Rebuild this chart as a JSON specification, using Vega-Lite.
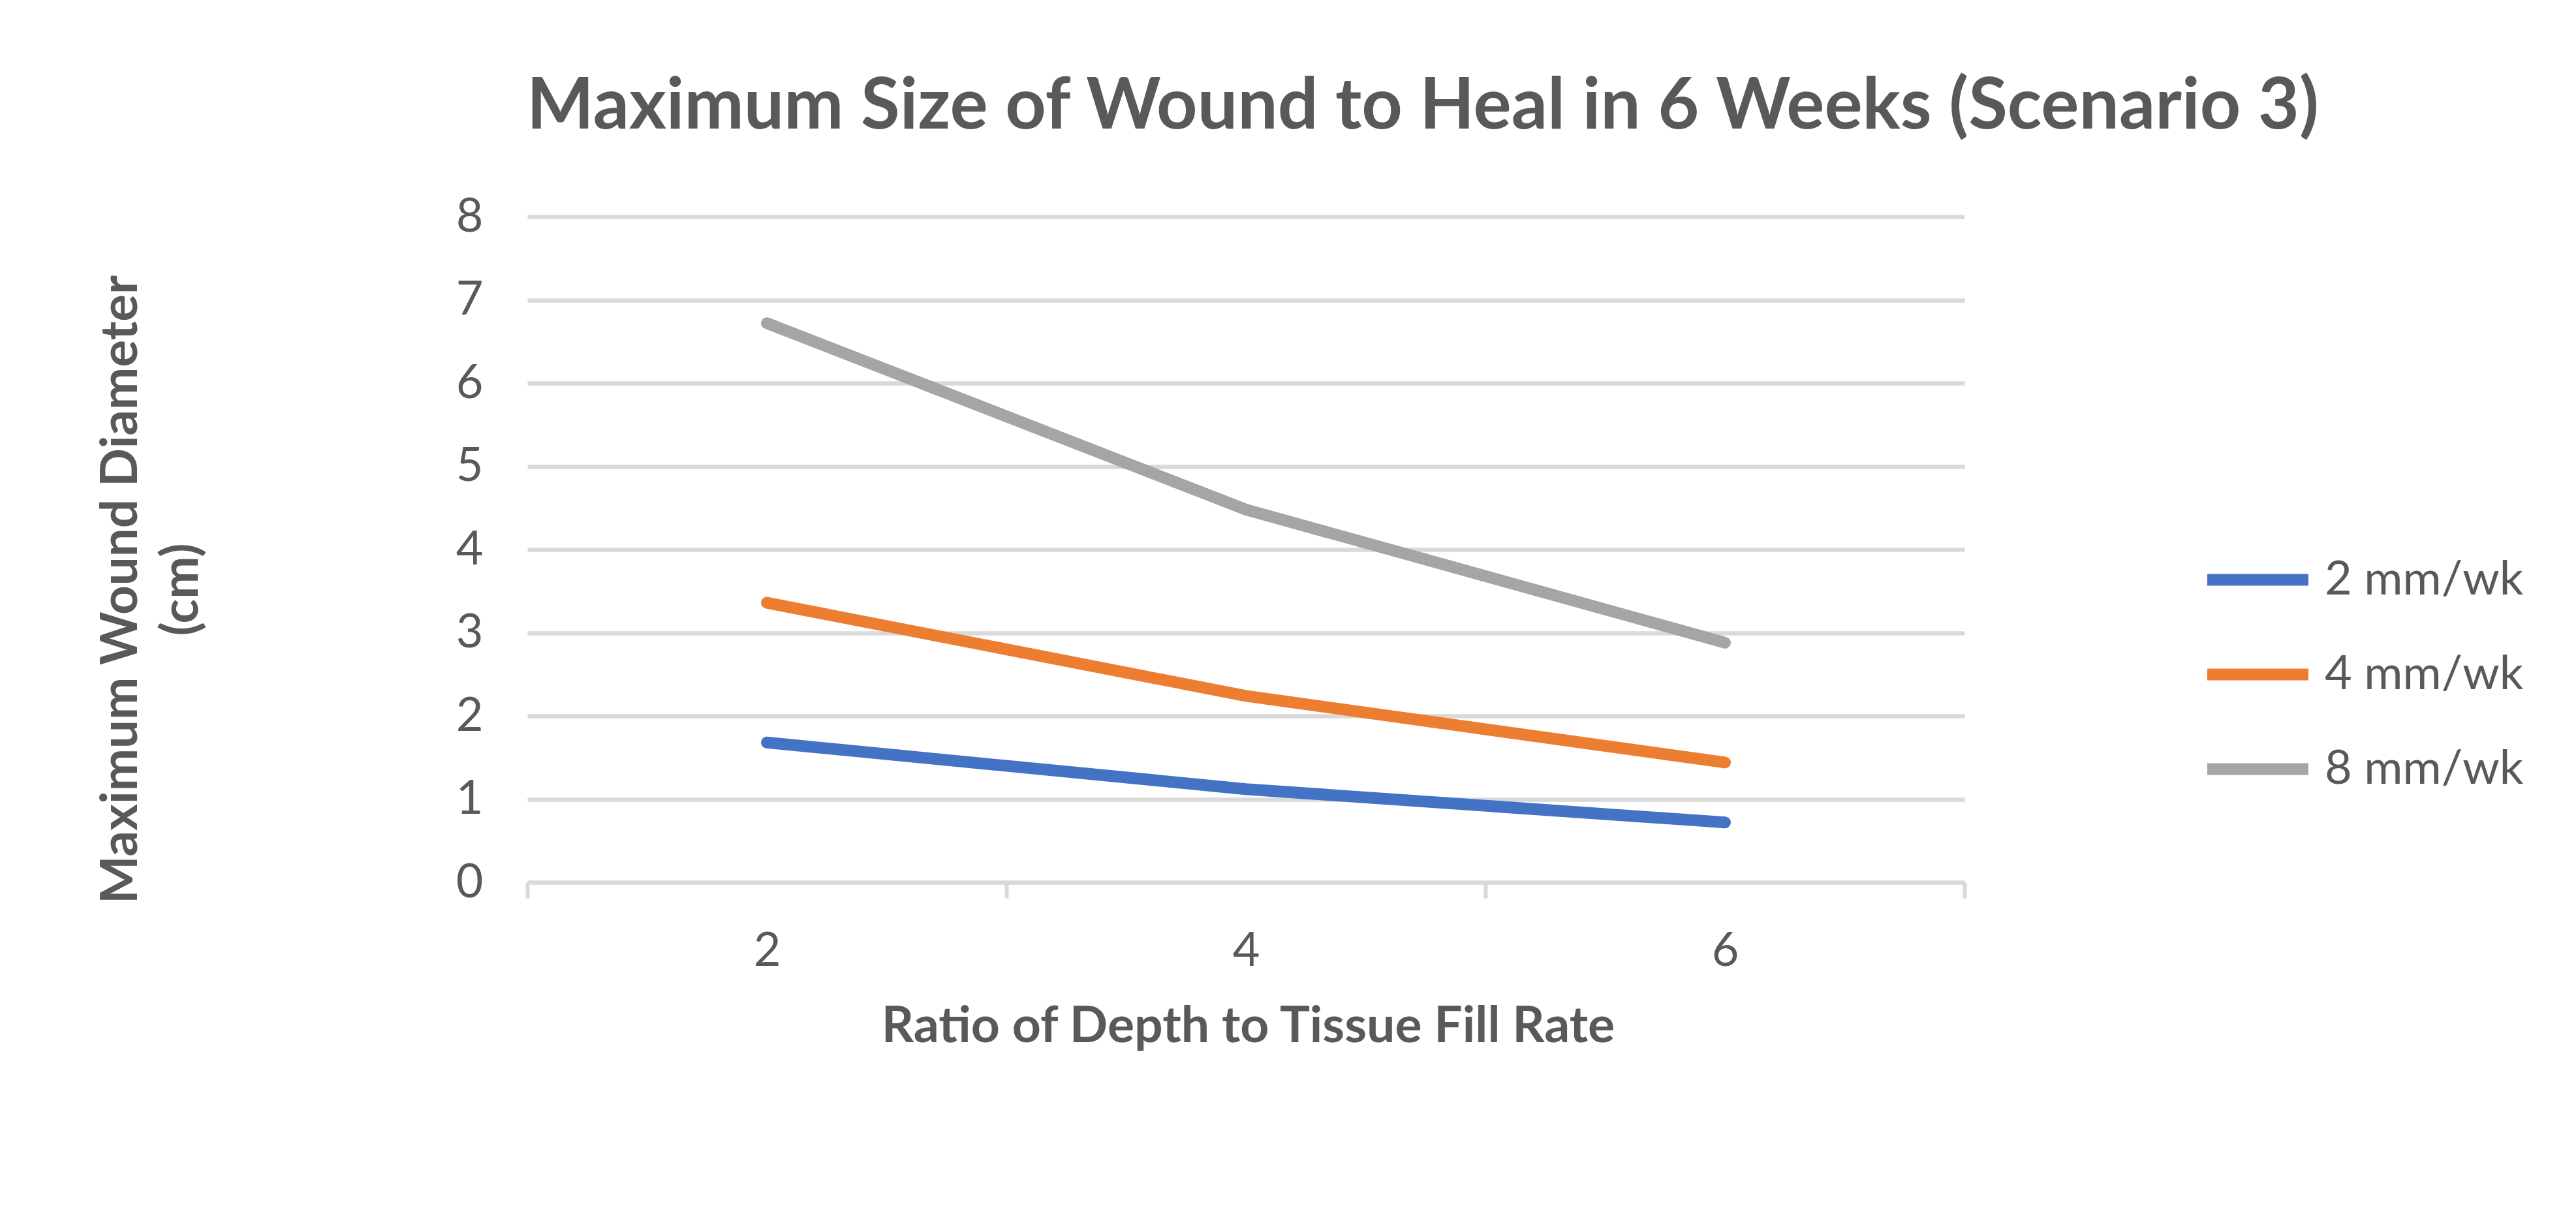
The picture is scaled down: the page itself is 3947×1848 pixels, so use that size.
{
  "$schema": "https://vega.github.io/schema/vega-lite/v6.json",
  "width": 2202,
  "height": 1020,
  "autosize": {"type": "none"},
  "padding": {"left": 808, "top": 332, "right": 937, "bottom": 496},
  "background": "white",
  "title": {
    "text": "Maximum Size of Wound to Heal in 6 Weeks (Scenario 3)",
    "font": "Lato",
    "fontWeight": "bold",
    "fontSize": 109,
    "color": "#595959",
    "anchor": "middle",
    "frame": "group",
    "baseline": "alphabetic",
    "dx": 271,
    "offset": -10
  },
  "data": {
    "values": [
      {"ratio": 2, "rate": "2 mm/wk", "diameter": 1.68},
      {"ratio": 4, "rate": "2 mm/wk", "diameter": 1.12},
      {"ratio": 6, "rate": "2 mm/wk", "diameter": 0.72},
      {"ratio": 2, "rate": "4 mm/wk", "diameter": 3.36},
      {"ratio": 4, "rate": "4 mm/wk", "diameter": 2.24},
      {"ratio": 6, "rate": "4 mm/wk", "diameter": 1.44},
      {"ratio": 2, "rate": "8 mm/wk", "diameter": 6.72},
      {"ratio": 4, "rate": "8 mm/wk", "diameter": 4.48},
      {"ratio": 6, "rate": "8 mm/wk", "diameter": 2.88}
    ]
  },
  "mark": {"type": "line", "strokeWidth": 18, "strokeCap": "round", "strokeJoin": "round"},
  "encoding": {
    "x": {
      "field": "ratio",
      "type": "quantitative",
      "scale": {"domain": [1, 7], "nice": false, "zero": false},
      "axis": {
        "title": "Ratio of Depth to Tissue Fill Rate",
        "values": [1, 2, 3, 4, 5, 6, 7],
        "grid": false,
        "domain": false,
        "ticks": true,
        "tickColor": "#D9D9D9",
        "tickWidth": 6,
        "tickSize": 24,
        "tickOpacity": {"condition": {"test": "datum.value % 2 === 1", "value": 1}, "value": 0},
        "labelExpr": "datum.value % 2 === 0 ? datum.label : ''",
        "labelPadding": 46,
        "labelFont": "Lato",
        "labelFontSize": 72,
        "labelColor": "#595959",
        "titleFont": "Lato",
        "titleFontWeight": "bold",
        "titleFontSize": 77,
        "titleColor": "#595959",
        "titleBaseline": "alphabetic",
        "titleAlign": "center",
        "titleX": 1104,
        "titleY": 244
      }
    },
    "y": {
      "field": "diameter",
      "type": "quantitative",
      "scale": {"domain": [0, 8], "nice": false},
      "axis": {
        "title": ["Maximum Wound Diameter", "(cm)"],
        "values": [0, 1, 2, 3, 4, 5, 6, 7, 8],
        "grid": true,
        "gridColor": "#D9D9D9",
        "gridWidth": 6.5,
        "domain": false,
        "ticks": false,
        "labelPadding": 68,
        "labelFont": "Lato",
        "labelFontSize": 72,
        "labelColor": "#595959",
        "titleFont": "Lato",
        "titleFontWeight": "bold",
        "titleFontSize": 78,
        "titleColor": "#595959",
        "titleAngle": -90,
        "titleBaseline": "alphabetic",
        "titleAlign": "center",
        "titleLineHeight": 93,
        "titleX": -599,
        "titleY": 571
      }
    },
    "color": {
      "field": "rate",
      "type": "nominal",
      "scale": {
        "domain": ["2 mm/wk", "4 mm/wk", "8 mm/wk"],
        "range": ["#4472C4", "#ED7D31", "#A5A5A5"]
      },
      "legend": {
        "title": null,
        "orient": "none",
        "legendX": 2565,
        "legendY": 470,
        "padding": 0,
        "symbolType": "stroke",
        "symbolSize": 24000,
        "symbolStrokeWidth": 18,
        "rowPadding": 22,
        "labelOffset": 16,
        "labelLimit": 1000,
        "labelFont": "Lato",
        "labelFontSize": 72,
        "labelColor": "#595959"
      }
    }
  },
  "config": {
    "view": {"stroke": null}
  }
}
